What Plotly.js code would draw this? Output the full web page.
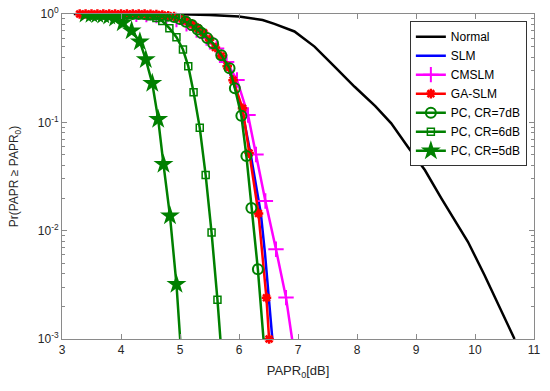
<!DOCTYPE html>
<html><head><meta charset="utf-8">
<script src="https://cdn.plot.ly/plotly-3.0.1.min.js"></script>
<style>html,body{margin:0;padding:0;background:#fff}#chart{width:550px;height:391px}</style>
</head><body><div id="chart"></div>
<script>
// ---- data ----
var normX = [3.2,3.6,4.0,4.5,5.0,5.5,6.0,6.4,6.6,6.94,7.28,7.62,7.96,8.31,8.58,8.86,9.15,9.43,9.88,10.16,10.67];
var normP = [0.9999,0.9998,0.9995,0.998,0.993,0.98,0.95,0.88,0.81,0.69,0.50,0.326,0.213,0.141,0.098,0.0596,0.0363,0.0199,0.0079,0.0039,0.001];

var slmX = [3.3,3.5,3.7,3.9,4.1,4.3,4.5,4.7,4.9,5.1,5.3,5.5,5.7,5.8,5.9,6.0,6.1,6.2,6.3,6.37,6.44,6.51,6.566,6.62];
var slmP = [1,1,1,1,1,0.999,0.995,0.98,0.94,0.86,0.73,0.57,0.41,0.325,0.24,0.16,0.095,0.05,0.025,0.0144,0.0062,0.0024,0.001,0.00045];

var cmX = [3.92,4.09,4.26,4.43,4.60,4.77,4.94,5.11,5.28,5.45,5.62,5.79,5.966,6.153,6.288,6.447,6.627,6.797,6.97];
var cmP = [1.0,0.999,0.996,0.99,0.97,0.94,0.89,0.81,0.71,0.60,0.48,0.36,0.246,0.117,0.0504,0.0188,0.00673,0.00241,0.00055];

var gaX = [3.3,3.4,3.5,3.6,3.7,3.8,3.9,4.0,4.1,4.2,4.3,4.4,4.5,4.6,4.7,4.8,4.9,5.0,5.1,5.2,5.3,5.4,5.5,5.6,5.7,5.8,5.9,6.06,6.17,6.33,6.465,6.51];
var gaP = [1,1,1,1,1,1,1,1,0.9995,0.999,0.998,0.997,0.995,0.99,0.98,0.965,0.945,0.92,0.87,0.81,0.74,0.67,0.58,0.49,0.41,0.33,0.245,0.135,0.052,0.0144,0.0024,0.001];

var pc7X = [3.5,3.6,3.7,3.8,3.9,4.0,4.1,4.2,4.3,4.4,4.5,4.6,4.7,4.8,4.9,5.0,5.1,5.2,5.3,5.36,5.46,5.56,5.70,5.84,5.93,6.04,6.125,6.21,6.32,6.46];
var pc7P = [1,1,1,1,1,1,1,1,0.999,0.998,0.995,0.99,0.98,0.965,0.94,0.90,0.85,0.79,0.72,0.67,0.60,0.537,0.417,0.316,0.206,0.115,0.049,0.0162,0.0044,0.0005];

var pc6X = [3.5,3.6,3.7,3.8,3.9,4.0,4.1,4.2,4.3,4.4,4.5,4.6,4.7,4.82,4.94,5.05,5.14,5.23,5.335,5.435,5.535,5.635,5.74];
var pc6P = [1,1,1,1,0.999,0.998,0.996,0.993,0.985,0.975,0.955,0.92,0.86,0.74,0.61,0.47,0.33,0.19,0.089,0.0326,0.0096,0.0023,0.0004];

var pc5X = [3.4,3.5,3.6,3.7,3.8,3.9,4.03,4.18,4.32,4.42,4.53,4.63,4.72,4.83,4.94,5.04];
var pc5P = [0.999,0.997,0.99,0.98,0.96,0.92,0.83,0.70,0.555,0.38,0.229,0.107,0.041,0.0137,0.0032,0.0005];

var yTickVals = [0.001,0.01,0.1,1];
var yTickText = ['10<sup>-3</sup>','10<sup>-2</sup>','10<sup>-1</sup>','10<sup>0</sup>'];
var names = ['Normal','SLM','CMSLM','GA-SLM','PC, CR=7dB','PC, CR=6dB','PC, CR=5dB'];

var G = '#008000';
var traces = [
  {x:normX,y:normP,name:names[0],mode:'lines',line:{color:'#000000',width:2.5}},
  {x:slmX,y:slmP,name:names[1],mode:'lines',line:{color:'#0000ff',width:2.5}},
  {x:cmX,y:cmP,name:names[2],mode:'lines+markers',line:{color:'#ff00ff',width:2.5},
    marker:{symbol:'cross-thin-open',size:11,color:'#ff00ff',line:{color:'#ff00ff',width:2}}},
  {x:gaX,y:gaP,name:names[3],mode:'lines+markers',cliponaxis:false,line:{color:'#ff0000',width:2.5},
    marker:{symbol:'asterisk-open',size:8,color:'#ff0000',line:{color:'#ff0000',width:2.5}}},
  {x:pc7X,y:pc7P,name:names[4],mode:'lines+markers',line:{color:G,width:2.5},
    marker:{symbol:'circle-open',size:10,color:G,line:{color:G,width:2}}},
  {x:pc6X,y:pc6P,name:names[5],mode:'lines+markers',line:{color:G,width:2.5},
    marker:{symbol:'square-open',size:7,color:G,line:{color:G,width:1.5}}},
  {x:pc5X,y:pc5P,name:names[6],mode:'lines+markers',line:{color:G,width:2.5},
    marker:{symbol:'star',size:15,color:G,line:{width:0}}}
];

var AX = '#8a8a8a', TX = '#262626';
var layout = {
  width:550, height:391,
  margin:{l:62,r:16,t:14,b:52},
  paper_bgcolor:'#fff', plot_bgcolor:'#fff',
  font:{family:'"Liberation Sans", Arial, sans-serif', size:12, color:TX},
  showlegend:true,
  legend:{x:0.737,y:0.978,xanchor:'left',yanchor:'top',bgcolor:'#ffffff',bordercolor:'#333',borderwidth:1,
    font:{size:12,color:'#000'},tracegroupgap:0},
  xaxis:{type:'linear',range:[3,11],dtick:1,tick0:3,ticks:'inside',ticklen:5,tickcolor:AX,
    showline:true,linecolor:AX,linewidth:1,mirror:'ticks',showgrid:false,zeroline:false,
    tickfont:{size:12,color:TX},
    title:{text:'PAPR<sub>0</sub>[dB]',font:{size:13,color:TX},standoff:9}},
  yaxis:{type:'log',range:[-3,0],tickmode:'array',tickvals:yTickVals,ticktext:yTickText,
    ticks:'inside',ticklen:5,tickcolor:AX,showline:true,linecolor:AX,linewidth:1,mirror:'ticks',
    showgrid:false,zeroline:false,tickfont:{size:12,color:TX},
    minor:{ticks:'inside',ticklen:3,tickcolor:AX,dtick:'D1',showgrid:false},
    title:{text:'Pr(PAPR ≥ PAPR<sub>0</sub>)',font:{size:12,color:TX},standoff:16}}
};
Plotly.newPlot('chart',traces,layout,{displayModeBar:false,staticPlot:true});
</script></body></html>
